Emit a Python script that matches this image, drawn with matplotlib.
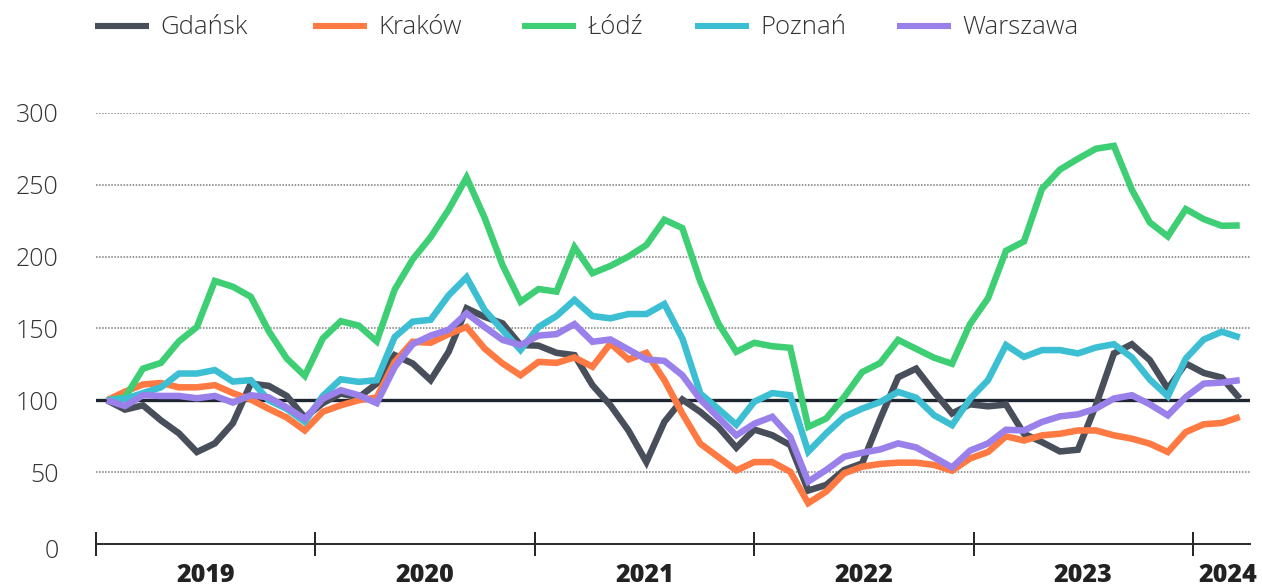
import matplotlib
matplotlib.use("Agg")
import matplotlib.pyplot as plt
import matplotlib.transforms as mtrans
import numpy as np

# ---- data (monthly index, Jan 2019 = 100) ----
cities = ["Gdańsk", "Kraków", "Łódź", "Poznań", "Warszawa"]
colors = ["#484f5b", "#ff7a42", "#3ecf74", "#3dbfd3", "#9a80ea"]

gdansk = [100, 93.5, 96.5, 86, 77, 64, 70, 84, 111.6, 110, 103, 88,
          98, 104.7, 102, 111.6, 131.4, 125.6, 114, 133.7, 164, 158, 153.5, 138.4,
          138, 133, 131.4, 110.5, 96.5, 79, 57, 85, 100.5, 91.9, 81.4, 67,
          79.6, 75.7, 68.8, 37.2, 41.1, 51.5, 56.1, 87, 116, 122, 105.8, 90.8,
          97.2, 95.8, 97, 76.7, 70.9, 64.4, 65.6, 96.5, 132.6, 139, 127.9, 108,
          125.6, 119, 115.8, 101.2]
krakow = [100, 106, 111, 112, 109, 109, 110.5, 105, 100.5, 94, 88, 79,
          92, 96.5, 100, 102, 126.7, 140.7, 140, 146, 151, 136, 125.6, 117.4,
          126.7, 126, 129.8, 123.3, 139.5, 128.4, 133, 114, 90.7, 69.8, 60.5, 51.2,
          57, 57, 50.3, 28.4, 36.5, 49.2, 53.8, 55.7, 56.6, 56.6, 55, 51,
          59.5, 64, 74.9, 72, 75.6, 76.7, 79, 79, 75.6, 73.3, 69.8, 64,
          77.9, 83.3, 84.2, 88.4]
lodz = [100, 102, 122, 126, 141, 151, 183, 179, 172, 148, 129, 117,
        143, 155, 152, 141, 177, 198, 213.5, 232.6, 255, 227, 194, 168.6,
        177.4, 175.6, 206.5, 188.4, 193.5, 200, 208, 225.6, 219.8, 182.6, 153.5, 133.7,
        140, 137.6, 136.5, 81.5, 87.3, 102.3, 119.6, 125.9, 142, 135.8, 129.6, 125.4,
        153, 171, 204, 210.5, 247, 260.5, 268, 275, 277, 246.5, 223.7, 214,
        233, 226, 221.4, 221.6]
poznan = [100, 101, 105, 109, 118.6, 118.6, 121, 113, 114, 100, 94, 85,
          103, 114.6, 112.8, 114, 144, 154.7, 156, 173, 185.6, 162.8, 148.8, 135,
          151, 158.6, 169.8, 158.6, 157, 160, 160, 167, 143, 104.7, 94, 83,
          99, 105, 103.5, 64.2, 77, 88.5, 94.2, 98.8, 105.8, 101.8, 89.6, 82.7,
          101, 114, 138.4, 130.2, 134.9, 134.9, 132.6, 136.7, 139, 129.8, 114.4, 102.8,
          129, 142.3, 147.7, 143.7]
warszawa = [100, 96, 103.5, 103, 103, 101.4, 103, 98.4, 103.5, 102, 95, 87,
            101, 107, 103.5, 98, 123, 139, 145, 149, 160.5, 151, 142, 138.4,
            145, 146, 153, 140.7, 142.3, 135.3, 128.4, 127.4, 117.4, 100.5, 88, 75.6,
            83.7, 88.5, 74.6, 43.4, 51.5, 60.7, 63.5, 65.8, 70, 67.2, 60.3, 53.3,
            65, 70, 79.5, 79, 84.9, 88.8, 90.2, 94.2, 101.2, 103.5, 97.2, 89.5,
            102.3, 111.6, 112.3, 114]
series = [gdansk, krakow, lodz, poznan, warszawa]

years = ["2019", "2020", "2021", "2022", "2023", "2024"]
yticks = [0, 50, 100, 150, 200, 250, 300]

FONT = "Open Sans"
plt.rcParams["font.family"] = [FONT, "DejaVu Sans"]

W, H = 1262, 587
fig = plt.figure(figsize=(W / 100, H / 100), dpi=100)

# axes geometry in pixels
px_left, px_right = 96, 1250
px_bottom, px_top = 544, 112.8
ax = fig.add_axes([px_left / W, (H - px_bottom) / H,
                   (px_right - px_left) / W, (px_bottom - px_top) / H])

step = 17.98          # px per month
x0_px = 107           # px of first month
ax.set_xlim((px_left - x0_px) / step, (px_right - x0_px) / step)
ax.set_ylim(0, 300)

x = np.arange(len(gdansk))

# grid
for v in [50, 150, 200, 250, 300]:
    ax.axhline(v, color="#7a7a7a", lw=1.1, ls=(0, (1, 1)), zorder=1)
ax.axhline(100, color="#1f2631", lw=2.4, zorder=2)
ax.axhline(0, color="#2b2b2b", lw=1.4, zorder=2, clip_on=False)

lines = []
for s, c, name in zip(series, colors, cities):
    ln, = ax.plot(x, s, color=c, lw=4.7, solid_joinstyle="miter",
                  solid_capstyle="butt", label=name, zorder=3, clip_on=False)
    lines.append(ln)

for sp in ax.spines.values():
    sp.set_visible(False)

# year ticks (boundaries) and labels (centred between boundaries)
tick_px = [96 + 219.4 * k for k in range(len(years))]
tick_pos = [(p - x0_px) / step for p in tick_px]
end_pos = (1262 - x0_px) / step
mid_pos = [(tick_pos[k] + (tick_pos[k + 1] if k + 1 < len(tick_pos) else end_pos)) / 2
           for k in range(len(tick_pos))]
ax.set_xticks(tick_pos)
ax.set_xticklabels([])
ax.tick_params(axis="x", which="major", direction="inout", length=17, width=1.4,
               color="#222222")
ax.set_xticks(mid_pos, minor=True)
ax.set_xticklabels(years, minor=True, fontsize=18, fontweight="heavy", color="#222222")
ax.tick_params(axis="x", which="minor", length=0, pad=14)

ax.set_yticks(yticks)
ax.set_yticklabels([str(v) for v in yticks], fontsize=18, fontweight="light",
                   color="#333333")
ax.tick_params(axis="y", length=0, pad=27)
# "0" sits slightly below the axis line in the reference
lbl0 = ax.get_yticklabels()[0]
lbl0.set_transform(lbl0.get_transform() +
                   mtrans.ScaledTranslation(0, -4 / 100, fig.dpi_scale_trans))

# legend: one entry per city, placed at the reference positions
legend_px = [95, 313, 522, 695, 897]
for ln, name, lx in zip(lines, cities, legend_px):
    leg = fig.legend([ln], [name], loc="center left",
                     bbox_to_anchor=(lx / W, 1 - 28 / H), frameon=False,
                     borderpad=0, borderaxespad=0, handlelength=2.1,
                     handletextpad=0.45,
                     prop={"size": 18.5, "weight": "light"})
    for t in leg.get_texts():
        t.set_color("#333333")
    for lh in leg.get_lines():
        lh.set_linewidth(4.4)

fig.savefig("out.png", dpi=100)
